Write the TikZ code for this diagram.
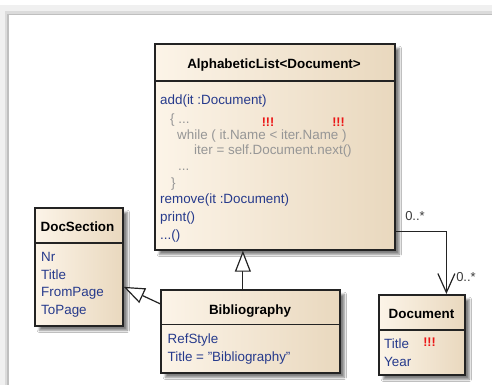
\documentclass[tikz,border=0pt]{standalone}
\usepackage{fontspec}
\setmainfont{Liberation Sans}
\usetikzlibrary{arrows.meta,shadows.blur}
\definecolor{boxL}{RGB}{252,244,232}
\definecolor{boxR}{RGB}{233,216,190}
\definecolor{attr}{RGB}{38,58,140}
\definecolor{code}{RGB}{150,150,150}
\definecolor{bang}{RGB}{235,20,20}
\definecolor{edge}{RGB}{35,35,35}
\definecolor{lblc}{RGB}{60,60,60}
\begin{document}
\begin{tikzpicture}[x=1pt,y=-1pt,
  classbox/.style={draw=edge, line width=1.7pt, left color=boxL, right color=boxR,
    blur shadow={shadow xshift=4.5pt,shadow yshift=-4.5pt,shadow blur steps=6,shadow opacity=50},
    anchor=north west, inner sep=0pt},
  sepline/.style={draw=edge, line width=1.3pt},
  ttl/.style={font=\fontsize{13.4}{15}\selectfont\bfseries, text=black, inner sep=0pt, text height=9.5pt, text depth=0pt},
  attrt/.style={font=\fontsize{13.4}{15}\selectfont, text=attr, anchor=west, inner sep=0pt, text height=9.5pt, text depth=0pt},
  codet/.style={attrt, text=code},
  bangt/.style={font=\fontsize{12.5}{14}\selectfont\bfseries, text=bang, inner sep=0pt, text height=9pt, text depth=0pt},
  lbl/.style={font=\fontsize{13}{15}\selectfont, text=lblc, inner sep=0pt, text height=9.3pt, text depth=0pt},
  gen/.style={draw=edge, line width=1.2pt, -{Triangle[length=21pt,width=16pt,fill=white]}},
  assoc/.style={draw=edge, line width=1.2pt, -{Straight Barb[length=19pt,width=17pt]}}
]
\fill[white] (0,0) rectangle (492,385);
\useasboundingbox (0,0) rectangle (492,385);
% outer frame shadow
\draw[line width=8pt, black!6] (4,400) -- (4,9) -- (500,9);
\draw[line width=3pt, black!14] (6.5,400) -- (6.5,12.5) -- (500,12.5);
\draw[line width=1.2pt, black!25] (8,400) -- (8,14.5) -- (500,14.5);

% AlphabeticList<Document>
\node[classbox, minimum width=240pt, minimum height=206pt] (alist) at (154,43) {};
\draw[sepline] (154,81) -- (394,81);
\node[ttl] (alistT) at (274,64) {AlphabeticList<Document>};
\node[attrt] (a1) at (160,100) {add(it :Document)};
\node[codet] (c1) at (170,119) {\{ ...};
\node[codet] (c2) at (177,135) {while ( it.Name < iter.Name )};
\node[codet] (c3) at (194,150) {iter = self.Document.next()};
\node[codet] (c4) at (178,166) {...};
\node[codet] (c5) at (171,183) {\}};
\node[attrt] (a2) at (160,199) {remove(it :Document)};
\node[attrt] (a3) at (160,217) {print()};
\node[attrt] (a4) at (160,235) {...()};
\node[bangt] (b1) at (268,122) {!!!};
\node[bangt] (b2) at (338.5,122) {!!!};

% DocSection
\node[classbox, minimum width=88pt, minimum height=118pt] (docsec) at (34,207) {};
\draw[sepline] (34,243) -- (122,243);
\node[ttl] (docsecT) at (77.5,227) {DocSection};
\node[attrt] (d1) at (41,257) {Nr};
\node[attrt] (d2) at (41,274.5) {Title};
\node[attrt] (d3) at (41,292) {FromPage};
\node[attrt] (d4) at (41,309.5) {ToPage};

% Bibliography
\node[classbox, minimum width=179pt, minimum height=83pt] (bib) at (160,289) {};
\draw[sepline] (160,324.5) -- (339,324.5);
\node[ttl] (bibT) at (250,310) {Bibliography};
\node[attrt] (e1) at (167.5,339) {RefStyle};
\node[attrt] (e2) at (167.5,356.5) {Title = "Bibliography"};

% Document
\node[classbox, minimum width=86pt, minimum height=80pt] (doc) at (378,294) {};
\draw[sepline] (378,330) -- (464,330);
\node[ttl] (docT) at (421.5,314) {Document};
\node[attrt] (f1) at (384,343.5) {Title};
\node[attrt] (f2) at (384,361.5) {Year};
\node[bangt] (b3) at (429.5,342) {!!!};

% connectors
\draw[gen] (bib.100) -- (bib.100 |- alist.south);
\draw[gen] (bib.163) -- (docsec.-24);
\draw[assoc] (alist.-35) -| (doc.59);
\node[lbl] (m1) at (415,216) {0..*};
\node[lbl] (m2) at (466,277) {0..*};
\end{tikzpicture}
\end{document}
